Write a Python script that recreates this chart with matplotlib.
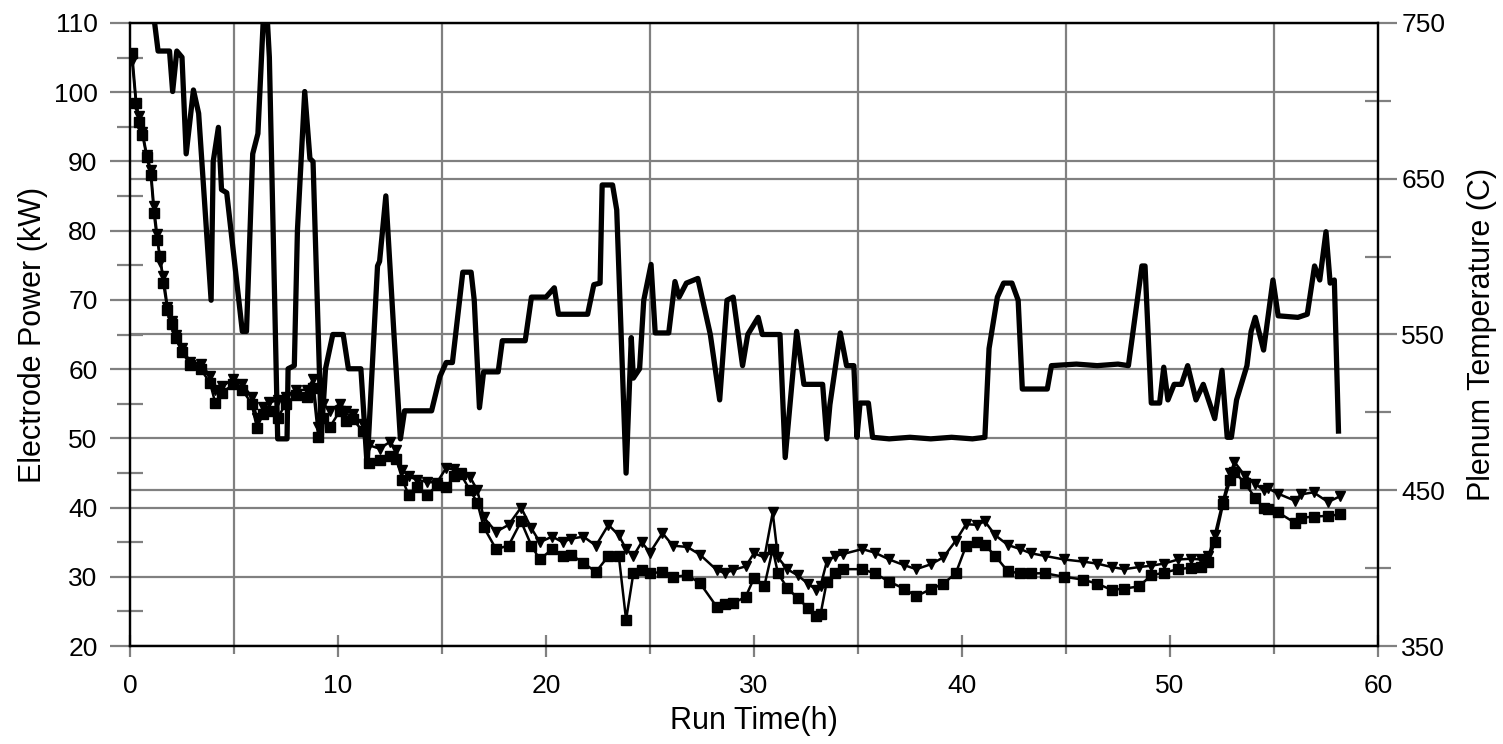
import matplotlib
matplotlib.use("Agg")
import matplotlib.pyplot as plt
from matplotlib.ticker import MultipleLocator, FixedLocator
from matplotlib.transforms import blended_transform_factory

plt.rcParams['font.family'] = ['Liberation Sans', 'DejaVu Sans']

# ---------------- data ----------------
power_time = [0.1, 0.3, 0.45, 0.6, 0.8, 1.0, 1.15, 1.3, 1.45, 1.6,
              1.8, 2.0, 2.2, 2.5, 2.9, 3.4, 3.85, 4.1, 4.4, 4.95,
              5.4, 5.85, 6.1, 6.4, 6.7, 7.1, 7.5, 8.0, 8.5, 8.8,
              9.05, 9.3, 9.6, 10.1, 10.4, 10.7, 11.2, 11.5, 12.0, 12.5,
              12.8, 13.1, 13.4, 13.8, 14.3, 14.75, 15.2, 15.6, 15.9, 16.35,
              16.7, 17.0, 17.6, 18.2, 18.8, 19.3, 19.7, 20.3, 20.8, 21.2,
              21.8, 22.4, 23.0, 23.5, 23.85, 24.2, 24.6, 25.0, 25.6, 26.1,
              26.8, 27.4, 28.2, 28.6, 29.0, 29.6, 30.0, 30.5, 30.9, 31.15,
              31.6, 32.1, 32.6, 33.0, 33.2, 33.5, 33.9, 34.3, 35.2, 35.8,
              36.5, 37.2, 37.8, 38.5, 39.1, 39.7, 40.2, 40.7, 41.1, 41.6,
              42.2, 42.8, 43.3, 44.0, 44.9, 45.8, 46.5, 47.2, 47.8, 48.5,
              49.1, 49.7, 50.4, 51.0, 51.5, 51.85, 52.15, 52.55, 52.9, 53.1,
              53.6, 54.1, 54.5, 54.7, 55.2, 56.0, 56.3, 56.9, 57.6, 58.15]

power_a = [105.7, 98.5, 95.7, 93.8, 90.7, 88.0, 82.5, 78.7, 76.3, 72.4,
           68.6, 66.5, 64.5, 62.5, 60.6, 60.0, 58.0, 55.1, 56.5, 57.8,
           57.0, 55.0, 51.5, 53.5, 54.0, 53.0, 55.0, 56.3, 56.0, 57.3,
           50.2, 53.0, 51.6, 54.0, 52.5, 52.8, 51.0, 46.5, 46.9, 47.5,
           47.0, 44.0, 41.8, 43.0, 41.8, 43.2, 43.0, 44.5, 44.8, 42.5,
           40.7, 37.2, 34.0, 34.5, 38.0, 34.5, 32.5, 34.0, 33.0, 33.2,
           32.0, 30.7, 33.0, 33.0, 23.8, 30.5, 31.0, 30.5, 30.7, 30.0,
           30.2, 29.1, 25.7, 26.0, 26.2, 27.1, 29.8, 28.7, 34.0, 30.5,
           28.4, 26.9, 25.5, 24.3, 24.6, 29.3, 30.5, 31.1, 31.1, 30.5,
           29.3, 28.3, 27.2, 28.2, 29.0, 30.5, 34.5, 35.0, 34.6, 33.0,
           30.8, 30.5, 30.5, 30.5, 30.0, 29.6, 29.0, 28.1, 28.3, 28.6,
           30.2, 30.6, 31.1, 31.3, 31.4, 32.2, 35.0, 40.5, 44.0, 45.2,
           43.5, 41.4, 39.9, 39.8, 39.3, 37.8, 38.5, 38.7, 38.8, 39.0]

power_b = [104.5, 98.0, 96.5, 94.3, 91.0, 88.8, 83.5, 79.5, 75.5, 73.5,
           69.0, 67.0, 65.0, 63.0, 61.0, 60.8, 59.0, 57.0, 57.5, 58.5,
           57.8, 56.0, 53.0, 54.5, 55.2, 55.5, 56.0, 57.0, 57.0, 58.5,
           51.6, 55.0, 54.0, 55.0, 54.0, 53.5, 52.0, 49.0, 48.5, 49.5,
           48.3, 45.4, 44.5, 44.0, 43.7, 43.6, 45.7, 45.5, 45.0, 44.4,
           42.5, 38.6, 36.5, 37.5, 40.0, 37.0, 35.0, 35.8, 35.0, 35.5,
           35.8, 34.5, 37.5, 36.0, 34.0, 33.0, 35.0, 33.5, 36.3, 34.5,
           34.3, 33.2, 31.0, 30.5, 31.0, 31.5, 33.4, 32.8, 39.3, 32.8,
           31.1, 30.2, 29.0, 28.1, 28.7, 32.2, 33.0, 33.3, 34.0, 33.5,
           32.5, 31.7, 31.1, 31.8, 32.8, 35.2, 37.6, 37.5, 38.0, 36.0,
           34.6, 34.0, 33.4, 33.0, 32.5, 32.2, 31.9, 31.4, 31.1, 31.4,
           31.6, 31.9, 32.5, 32.6, 32.5, 33.0, 36.0, 41.0, 45.0, 46.6,
           44.6, 43.4, 42.5, 42.8, 42.0, 41.0, 41.9, 42.2, 40.8, 41.6]

temp_time = [1.0, 1.35, 1.9, 2.05, 2.25, 2.5, 2.7, 3.05, 3.3, 3.9,
             4.0, 4.25, 4.4, 4.65, 5.4, 5.6, 5.9, 6.15, 6.4, 6.55,
             6.7, 7.1, 7.55, 7.6, 7.9, 8.05, 8.4, 8.65, 8.8, 9.2,
             9.4, 9.75, 10.25, 10.5, 11.1, 11.4, 11.9, 12.0, 12.3, 12.7,
             13.0, 13.2, 14.5, 14.9, 15.2, 15.5, 16.0, 16.4, 16.55, 16.8,
             17.0, 17.7, 17.9, 19.0, 19.3, 20.0, 20.4, 20.6, 22.0, 22.3,
             22.6, 22.7, 23.2, 23.4, 23.85, 24.1, 24.2, 24.5, 24.7, 25.05,
             25.25, 25.9, 26.2, 26.4, 26.75, 27.3, 27.9, 28.35, 28.7, 29.0,
             29.45, 29.7, 30.2, 30.4, 31.25, 31.5, 32.05, 32.4, 33.3, 33.5,
             33.65, 34.15, 34.45, 34.8, 34.95, 35.1, 35.5, 35.7, 36.5, 37.5,
             38.5, 39.5, 40.5, 41.1, 41.3, 41.7, 42.0, 42.4, 42.7, 42.9,
             44.1, 44.3, 45.5, 46.5, 47.5, 48.0, 48.65, 48.8, 49.1, 49.5,
             49.7, 49.9, 50.2, 50.55, 50.85, 51.25, 51.6, 52.15, 52.5, 52.75,
             52.95, 53.2, 53.7, 53.9, 54.1, 54.5, 54.95, 55.2, 56.15, 56.6,
             56.95, 57.2, 57.5, 57.7, 57.9, 58.1]

temp_vals = [770, 732, 732, 706, 732, 728, 666, 707, 692, 572,
             661, 683, 643, 641, 552, 552, 666, 679, 750, 765,
             728, 483, 483, 528, 530, 617, 706, 663, 661, 485,
             528, 550, 550, 528, 528, 466, 594, 597, 639, 548,
             483, 501, 501, 523, 532, 532, 590, 590, 572, 503,
             526, 526, 546, 546, 574, 574, 580, 563, 563, 582,
             583, 646, 646, 630, 461, 548, 522, 528, 572, 595,
             551, 551, 584, 574, 583, 586, 550, 508, 572, 574,
             530, 550, 561, 550, 550, 471, 552, 518, 518, 483,
             505, 551, 530, 530, 484, 506, 506, 484, 483, 484,
             483, 484, 483, 484, 541, 574, 583, 583, 572, 515,
             515, 530, 531, 530, 531, 530, 594, 594, 506, 506,
             529, 508, 518, 518, 530, 508, 518, 496, 527, 484,
             484, 508, 530, 552, 561, 540, 585, 562, 561, 563,
             594, 585, 616, 583, 585, 488]

left_ticks = [20, 30, 40, 50, 60, 70, 80, 90, 100, 110]
right_ticks = [350, 450, 550, 650, 750]
x_ticks = [0, 10, 20, 30, 40, 50, 60]

# ---------------- figure ----------------
W, H, DPI = 15.03, 7.44, 100
fig = plt.figure(figsize=(W, H), dpi=DPI)
px = 72.0 / DPI  # points per pixel
L0, R0, T0, B0 = 130, 1378, 23, 646
ax = fig.add_axes([L0 / 1503, 1 - B0 / 744, (R0 - L0) / 1503, (B0 - T0) / 744])
ax2 = ax.twinx()

grid_c = '#808080'
ax.set_xlim(0, 60)
ax.set_ylim(20, 110)
ax2.set_ylim(350, 750)

# gridlines
ax.set_axisbelow(True)
ax.yaxis.set_major_locator(FixedLocator(left_ticks))
ax.yaxis.set_minor_locator(MultipleLocator(5))
ax.xaxis.set_major_locator(FixedLocator(x_ticks))
ax.xaxis.set_minor_locator(FixedLocator([5, 15, 25, 35, 45, 55]))
ax.grid(True, which='major', axis='y', color=grid_c, lw=1.6)
ax.grid(True, which='minor', axis='x', color=grid_c, lw=1.6)
btf = blended_transform_factory(ax.transAxes, ax2.transData)
for t in right_ticks[1:-1]:
    ax.plot([0, 1], [t, t], transform=btf, color=grid_c, lw=1.6, zorder=0.6)

# power series
ax.plot(power_time, power_a, color='black', lw=1.8, marker='s', ms=6.5,
        mec='black', mfc='black', zorder=3)
ax.plot(power_time, power_b, color='black', lw=1.8, marker='v', ms=7.5,
        mec='black', mfc='black', zorder=3)

# temperature on right axis
ax2.plot(temp_time, temp_vals, color='black', lw=3.8, solid_joinstyle='round',
         zorder=4)
ax2.set_zorder(ax.get_zorder() + 1)
ax2.patch.set_visible(False)

# ticks
fs = 19
ax.tick_params(axis='x', which='major', direction='inout', length=22 * px,
               width=1.6, color=grid_c, labelsize=fs, pad=12)
ax.tick_params(axis='x', which='minor', direction='out', length=8 * px,
               width=1.6, color=grid_c)
ax.tick_params(axis='y', which='major', direction='out', length=20 * px,
               width=1.6, color=grid_c, labelsize=fs, pad=9)
ax.tick_params(axis='y', which='minor', direction='inout', length=26 * px,
               width=1.6, color=grid_c)
ax2.yaxis.set_major_locator(FixedLocator(right_ticks))
ax2.yaxis.set_minor_locator(FixedLocator([400, 500, 600, 700]))
ax2.tick_params(axis='y', which='major', direction='out', length=19 * px,
                width=1.6, color=grid_c, labelsize=fs, pad=3)
ax2.tick_params(axis='y', which='minor', direction='inout', length=26 * px,
                width=1.6, color=grid_c)

for a in (ax, ax2):
    for s in a.spines.values():
        s.set_color('black')
        s.set_linewidth(1.6)

ax.set_xlabel('Run Time(h)', fontsize=22)
ax.set_ylabel('Electrode Power (kW)', fontsize=22)
ax2.set_ylabel('Plenum Temperature (C)', fontsize=22, rotation=90)
ax.xaxis.set_label_coords(0.5, -0.097)
ax.yaxis.set_label_coords(-0.066, 0.5)
ax2.yaxis.set_label_coords(1.071, 0.5)

fig.savefig('out.png', dpi=DPI)
